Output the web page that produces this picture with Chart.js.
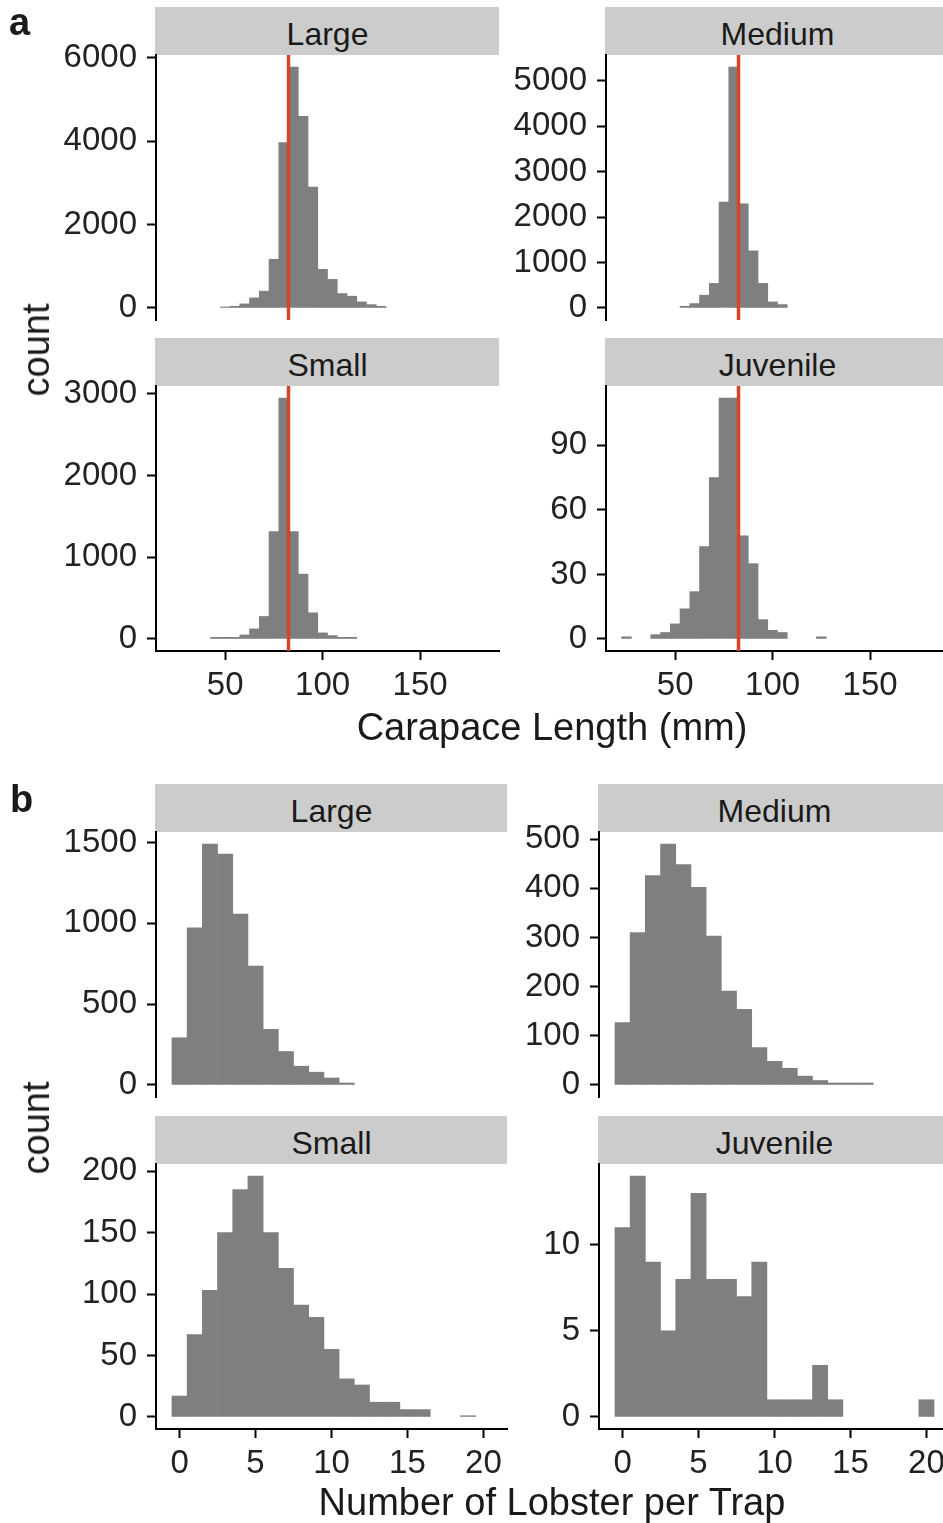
<!DOCTYPE html>
<html>
<head>
<meta charset="utf-8">
<script src="https://cdn.jsdelivr.net/npm/chart.js@4.4.1/dist/chart.umd.min.js"></script>
<style>
html, body { margin: 0; padding: 0; background: #fff; overflow: hidden; }
body { width: 943px; height: 1523px; position: relative; font-family: 'Liberation Sans', Arial, sans-serif; }
canvas { position: absolute; }
.strip { position: absolute; background: #cccccc; }
.txt { position: absolute; line-height: 1; white-space: nowrap; color: #1a1a1a; }
</style>
</head>
<body>
<script>
// carapace length histogram, bin centres in mm (binwidth 5)
const clBins = [25, 30, 35, 40, 45, 50, 55, 60, 65, 70, 75, 80, 85, 90, 95, 100, 105, 110, 115, 120, 125, 130];
const clLarge    = [null, null, null, null, null, 24, 40, 97, 241, 402, 1167, 3961, 5773, 4589, 2899, 926, 684, 346, 282, 145, 80, 40];
const clMedium   = [null, null, null, null, null, null, 37, 96, 281, 540, 2328, 5299, 2291, 1256, 540, 133, 74, null, null, null, null, null];
const clSmall    = [null, null, null, null, 20, 20, 20, 49, 123, 275, 1315, 2947, 1315, 793, 320, 74, 41, 20, 20, null, null, null];
const clJuvenile = [1, null, null, 2, 3, 7, 14, 22, 43, 75, 112, 112, 48, 35, 9, 4, 3, null, null, null, 1, null];
const legalSize = 82.5;

// lobsters per trap histogram (binwidth 1)
const trapBins = [0, 1, 2, 3, 4, 5, 6, 7, 8, 9, 10, 11, 12, 13, 14, 15, 16, 17, 18, 19, 20];
const trLarge    = [292, 973, 1491, 1429, 1058, 735, 344, 207, 116, 79, 43, 12, null, null, null, null, null, null, null, null, null];
const trMedium   = [127, 310, 426, 490, 448, 402, 303, 191, 154, 76, 48, 34, 18, 9, 4, 4, 4, null, null, null, null];
const trSmall    = [17, 67, 103, 150, 185, 196, 150, 121, 91, 81, 55, 31, 26, 12, 12, 6, 6, null, null, 1, null];
const trJuvenile = [11, 14, 9, 5, 8, 13, 8, 8, 7, 9, 1, 1, 1, 3, 1, null, null, null, null, null, 1];

// tick labels
const clTicks = [50, 100, 150];
const trapTicks = [0, 5, 10, 15, 20];
const yTicksA = { Large: [0, 2000, 4000, 6000], Medium: [0, 1000, 2000, 3000, 4000, 5000], Small: [0, 1000, 2000, 3000], Juvenile: [0, 30, 60, 90] };
const yTicksB = { Large: [0, 500, 1000, 1500], Medium: [0, 100, 200, 300, 400, 500], Small: [0, 50, 100, 150, 200], Juvenile: [0, 5, 10] };

const FONT = "'Liberation Sans', Arial, sans-serif";
const YW = 150, PAD = 30, XH = 70, PR = 20;

// red reference line at the legal size
const vline = {
  id: 'vline',
  afterDatasetsDraw(chart, args, opts) {
    if (opts.value == null) return;
    const x = chart.scales.x.getPixelForValue(opts.value);
    const a = chart.chartArea;
    const c = chart.ctx;
    c.save();
    c.strokeStyle = '#d6452b';
    c.lineWidth = 3.5;
    c.beginPath();
    c.moveTo(x, a.top);
    c.lineTo(x, a.bottom);
    c.stroke();
    c.restore();
  }
};

function axisStyle() {
  return {
    offset: false,
    border: { display: true, color: '#000', width: 2 },
    grid: { display: true, offset: false, drawOnChartArea: false, drawTicks: true, tickLength: 9, tickWidth: 2, tickColor: '#000' }
  };
}

function tickFont() {
  return { autoSkip: false, maxRotation: 0, color: '#222', font: { family: FONT, size: 33, lineHeight: 1.2 }, callback: v => String(v) };
}

function panel(o) {
  const cv = document.createElement('canvas');
  cv.width = YW + o.w + PR;
  cv.height = PAD + o.h + (o.showX ? XH : PAD);
  cv.style.left = (o.x - YW) + 'px';
  cv.style.top = (o.y - PAD) + 'px';
  document.body.appendChild(cv);

  const pts = o.bins.map((b, i) => ({ x: b, y: o.counts[i] })).filter(p => p.y != null);
  const top = Math.max(...pts.map(p => p.y));

  new Chart(cv, {
    type: 'bar',
    data: {
      datasets: [{
        data: pts,
        backgroundColor: '#7f7f7f',
        borderWidth: 0,
        barPercentage: 1,
        categoryPercentage: 1
      }]
    },
    options: {
      responsive: false,
      animation: false,
      layout: { padding: { top: PAD, right: PR, bottom: o.showX ? 0 : PAD, left: 0 } },
      plugins: { legend: { display: false }, tooltip: { enabled: false }, vline: { value: o.line } },
      scales: {
        x: Object.assign(axisStyle(), {
          type: 'linear',
          display: o.showX,
          min: o.xMin,
          max: o.xMax,
          ticks: Object.assign(tickFont(), { padding: 6 }),
          afterBuildTicks: s => { s.ticks = o.xTicks.map(v => ({ value: v })); },
          afterFit: s => { if (o.showX) s.height = XH; }
        }),
        y: Object.assign(axisStyle(), {
          type: 'linear',
          min: -0.05 * top,
          max: 1.05 * top,
          ticks: Object.assign(tickFont(), { padding: 10 }),
          afterBuildTicks: s => { s.ticks = o.yTicks.map(v => ({ value: v })); },
          afterFit: s => { s.width = YW; }
        })
      }
    },
    plugins: [vline]
  });
}

function text(str, x, base, size, center, bold) {
  const d = document.createElement('div');
  d.className = 'txt';
  d.textContent = str;
  d.style.fontSize = size + 'px';
  d.style.top = (base - 0.8465 * size) + 'px';
  d.style.left = x + 'px';
  if (center) d.style.transform = 'translateX(-50%)';
  if (bold) d.style.fontWeight = 'bold';
  document.body.appendChild(d);
}

function strip(label, x, y, w) {
  const s = document.createElement('div');
  s.className = 'strip';
  s.style.left = (x - 1) + 'px';
  s.style.top = y + 'px';
  s.style.width = (w + 1) + 'px';
  s.style.height = '48px';
  document.body.appendChild(s);
  text(label, x + w / 2, y + 38, 32, true);
}

function countLabel(cy) {
  const d = document.createElement('div');
  d.className = 'txt';
  d.textContent = 'count';
  d.style.fontSize = '38px';
  d.style.left = '36px';
  d.style.top = cy + 'px';
  d.style.transform = 'translate(-50%, -50%) rotate(-90deg)';
  document.body.appendChild(d);
}

// ---- panel a: carapace length ----
const aCols = [156, 606], aRows = [55, 386], aW = 343;
const aPanels = [['Large', clLarge], ['Medium', clMedium], ['Small', clSmall], ['Juvenile', clJuvenile]];
aPanels.forEach(([name, counts], i) => {
  const x = aCols[i % 2], y = aRows[Math.floor(i / 2)];
  strip(name, x, y - 48, aW);
  panel({ x, y, w: aW, h: 265, showX: i >= 2, bins: clBins, counts,
          xMin: 14.5, xMax: 190.5, xTicks: clTicks, yTicks: yTicksA[name], line: legalSize });
});

// ---- panel b: lobsters per trap ----
const bCols = [156, 599], bRows = [832, 1164], bW = 351;
const bPanels = [['Large', trLarge], ['Medium', trMedium], ['Small', trSmall], ['Juvenile', trJuvenile]];
bPanels.forEach(([name, counts], i) => {
  const x = bCols[i % 2], y = bRows[Math.floor(i / 2)];
  strip(name, x, y - 48, bW);
  panel({ x, y, w: bW, h: 265, showX: i >= 2, bins: trapBins, counts,
          xMin: -1.55, xMax: 21.55, xTicks: trapTicks, yTicks: yTicksB[name], line: null });
});

text('a', 9, 35, 38, false, true);
text('b', 10, 812, 38, false, true);
countLabel(350);
countLabel(1128);
text('Carapace Length (mm)', 552, 740, 38, true);
text('Number of Lobster per Trap', 552, 1515, 38, true);
</script>
</body>
</html>
